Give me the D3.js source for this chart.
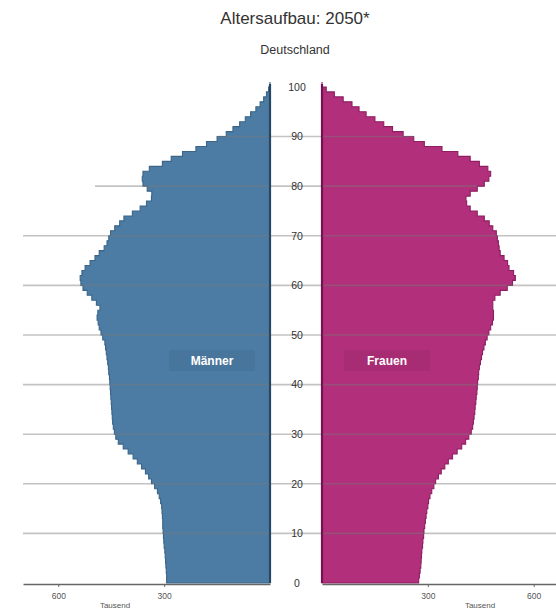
<!DOCTYPE html>
<meta charset="utf-8">
<script src="https://d3js.org/d3.v7.min.js"></script>
<style>
  body { margin: 0; background: #fff; }
  text { font-family: "Liberation Sans", Arial, sans-serif; }
</style>
<svg id="chart"></svg>
<script>
// Bevölkerung nach Alter (Tausend), 0 bis 100 Jahre
const ages = d3.range(0, 101);
const maenner = [
  292, 293, 293, 294, 295, 296, 297, 298, 300, 301,
  302, 303, 304, 304, 305, 306, 307, 310, 314, 319,
  327, 336, 344, 353, 364, 376, 388, 402, 416, 430,
  437, 441, 444, 446, 447, 448, 449, 450, 451, 452,
  453, 454, 455, 457, 458, 460, 462, 464, 466, 468,
  474, 479, 484, 487, 490, 488, 482, 492, 505, 518,
  530, 536, 538, 533, 524, 510, 496, 484, 470, 462,
  457, 452, 440, 426, 414, 390, 368, 350, 336, 335,
  348, 360, 362, 360, 342, 305, 280, 248, 210, 180,
  150, 124, 105, 86, 70, 55, 40, 28, 18, 10,
  4
];
const frauen = [
  272, 274, 276, 278, 280, 281, 282, 283, 285, 286,
  288, 289, 291, 293, 295, 297, 300, 302, 306, 311,
  317, 322, 330, 338, 348, 358, 370, 383, 396, 407,
  416, 423, 427, 429, 431, 433, 434, 436, 437, 439,
  440, 441, 443, 444, 446, 449, 452, 455, 459, 463,
  468, 473, 478, 483, 486, 486, 484, 484, 490, 505,
  525, 540, 548, 543, 530, 526, 516, 505, 502, 500,
  497, 494, 484, 474, 460, 440, 420, 410, 408, 420,
  440, 460, 473, 478, 470, 446, 420, 385, 340, 290,
  260, 230, 200, 175, 150, 125, 105, 85, 60, 35,
  12
];
const ageTicks = d3.range(0, 101, 10);
const xTicks = [300, 600];

(function() {
  const width = 556;
  const height = 610;

  const svg = d3.select("#chart")
      .attr("width", width)
      .attr("height", height);

  const y = d3.scaleLinear().domain([0, 101]).range([583, 82]);
  const xM = d3.scaleLinear().domain([0, 700]).range([270, 23]);
  const xF = d3.scaleLinear().domain([0, 700]).range([322, 569]);

  // Titel
  svg.append("text")
      .attr("x", 295).attr("y", 24)
      .attr("text-anchor", "middle")
      .attr("font-size", 17)
      .attr("fill", "#333")
      .text("Altersaufbau: 2050*");
  svg.append("text")
      .attr("x", 295).attr("y", 54)
      .attr("text-anchor", "middle")
      .attr("font-size", 12.5)
      .attr("fill", "#333")
      .text("Deutschland");

  // Balken als Stufenfläche (ein Balken je Altersjahr)
  const areaM = d3.area()
      .x0(xM(0))
      .x1(d => xM(maenner[d]))
      .y(d => y(d))
      .curve(d3.curveStepAfter);
  const areaF = d3.area()
      .x0(xF(0))
      .x1(d => xF(frauen[d]))
      .y(d => y(d))
      .curve(d3.curveStepAfter);
  // letzter Punkt schließt das Altersjahr 100 ab
  const ptsM = ages.concat([101]);
  maenner[101] = 0;
  frauen[101] = 0;

  svg.append("path").attr("d", areaM(ptsM))
      .attr("fill", "#4c7ca4")
      .attr("stroke", "#3a6488").attr("stroke-width", 1.1);
  svg.append("path").attr("d", areaF(ptsM))
      .attr("fill", "#b12f7b")
      .attr("stroke", "#8e1e62").attr("stroke-width", 1.1);

  // Gitterlinien
  svg.append("g").selectAll("line")
      .data(ageTicks.filter(a => a > 0 && a < 100))
      .enter()
      .append("line")
      .attr("x1", d => d <= 70 ? 23 : (d == 80 ? 95 : xM(maenner[d])))
      .attr("x2", d => d <= 70 ? width : xF(frauen[d]))
      .attr("y1", d => y(d))
      .attr("y2", d => y(d))
      .attr("stroke", "#7a7a7a")
      .attr("stroke-opacity", 0.45)
      .attr("stroke-width", 1.6);

  // Mittellinien
  svg.append("line")
      .attr("x1", xM(0)).attr("x2", xM(0))
      .attr("y1", y(0)).attr("y2", y(100.6))
      .attr("stroke", "#274763").attr("stroke-width", 2.2);
  svg.append("line")
      .attr("x1", xF(0)).attr("x2", xF(0))
      .attr("y1", y(0)).attr("y2", y(100.6))
      .attr("stroke", "#741150").attr("stroke-width", 2.2);

  // Altersachse
  const ageAxis = svg.append("g")
      .attr("transform", "translate(297,0)")
      .call(d3.axisRight(y).tickValues(ageTicks).tickSize(0));
  ageAxis.select(".domain").remove();
  ageAxis.selectAll("text")
      .attr("x", 0)
      .attr("text-anchor", "middle")
      .attr("font-size", 10.5)
      .attr("font-family", "Liberation Sans, Arial, sans-serif")
      .attr("fill", "#333");

  // x-Achsen
  [xM, xF].forEach(function(sc) {
    const g = svg.append("g")
        .attr("transform", "translate(0,584)")
        .call(d3.axisBottom(sc).tickValues(xTicks).tickSize(3).tickSizeOuter(0).tickPadding(6));
    g.select(".domain").attr("stroke", "#666").attr("stroke-width", 1.5);
    g.selectAll(".tick line").attr("stroke", "#666");
    g.selectAll("text")
        .attr("font-size", 8.5)
        .attr("font-family", "Liberation Sans, Arial, sans-serif")
        .attr("fill", "#555");
  });
  [115, 480].forEach(function(xx) {
    svg.append("text")
        .attr("x", xx).attr("y", 608)
        .attr("text-anchor", "middle")
        .attr("font-size", 8)
        .attr("fill", "#555")
        .text("Tausend");
  });

  // Beschriftungen
  const labels = [
    {text: "Männer", x: 212},
    {text: "Frauen", x: 387}
  ];
  labels.forEach(function(l) {
    svg.append("rect")
        .attr("x", l.x - 43).attr("y", 350)
        .attr("width", 86).attr("height", 21)
        .attr("fill", "#000").attr("fill-opacity", 0.05);
    svg.append("text")
        .attr("x", l.x).attr("y", 365)
        .attr("text-anchor", "middle")
        .attr("font-size", 12)
        .attr("font-weight", "bold")
        .attr("fill", "#fff")
        .text(l.text);
  });
})();
</script>
